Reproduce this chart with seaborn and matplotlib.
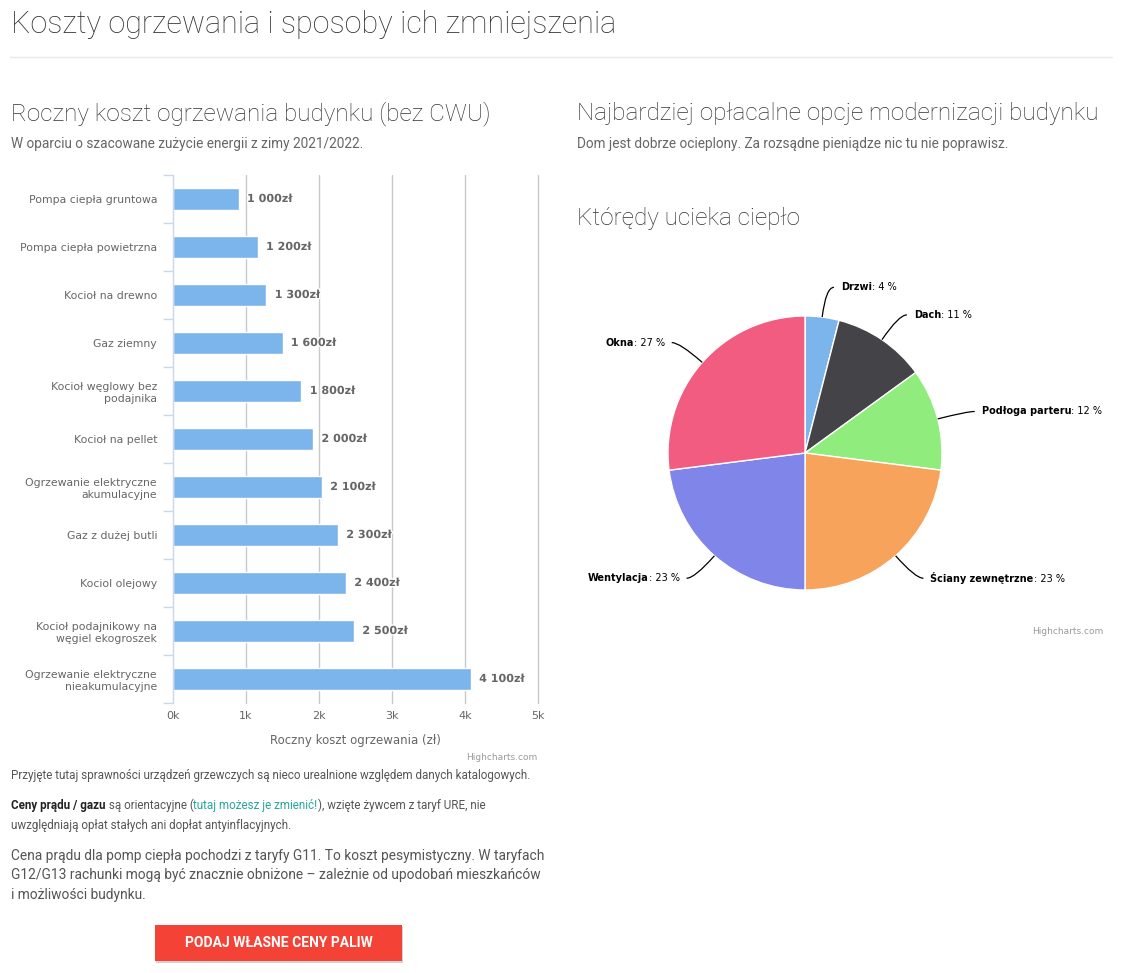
import textwrap
import numpy as np
import pandas as pd
import matplotlib
matplotlib.use('Agg')
import matplotlib.pyplot as plt
import matplotlib.patheffects as pe
from matplotlib.patches import Rectangle, PathPatch
from matplotlib.path import Path
import seaborn as sns

# dane wykresu slupkowego
kategorie = ['Pompa ciepła gruntowa', 'Pompa ciepła powietrzna', 'Kocioł na drewno', 'Gaz ziemny',
             'Kocioł węglowy bez podajnika', 'Kocioł na pellet', 'Ogrzewanie elektryczne akumulacyjne',
             'Gaz z dużej butli', 'Kociol olejowy', 'Kocioł podajnikowy na węgiel ekogroszek',
             'Ogrzewanie elektryczne nieakumulacyjne']
koszt = [900, 1160, 1280, 1500, 1760, 1920, 2040, 2260, 2370, 2480, 4080]
etykiety = ['1 000zł', '1 200zł', '1 300zł', '1 600zł', '1 800zł', '2 000zł', '2 100zł',
            '2 300zł', '2 400zł', '2 500zł', '4 100zł']
os_x = [0, 1000, 2000, 3000, 4000, 5000]
os_x_etykiety = ['0k', '1k', '2k', '3k', '4k', '5k']

# dane wykresu kolowego
pie_nazwy = ['Drzwi', 'Dach', 'Podłoga parteru', 'Ściany zewnętrzne', 'Wentylacja', 'Okna']
pie_proc = [4, 11, 12, 23, 23, 27]
pie_kolory = ['#7cb5ec', '#434348', '#90ed7d', '#f7a35c', '#8085e9', '#f15c80']

W, H = 1125, 973
sns.set_style('white')
plt.rcParams['font.family'] = ['DejaVu Sans']

fig = plt.figure(figsize=(W / 100, H / 100), dpi=100)


def box(x0, y0, x1, y1):
    return [x0 / W, 1 - y1 / H, (x1 - x0) / W, (y1 - y0) / H]


# tlo strony w pikselach (y w dol)
strona = fig.add_axes([0, 0, 1, 1])
strona.set_xlim(0, W)
strona.set_ylim(H, 0)
strona.axis('off')


def page_text(x, y, s, size, color='#333333', weight='normal', **kw):
    return strona.text(x, y, s, fontsize=size, color=color, family='Roboto',
                       fontweight=weight, va='baseline', **kw)


def dalej(prev, s, size, color, weight='normal', family='Roboto'):
    # dokleja tekst za poprzednim kawalkiem w tej samej linii
    return strona.annotate(s, xy=(1, 0), xycoords=prev, fontsize=size, color=color,
                           family=family, fontweight=weight, ha='left', va='bottom')


# naglowki strony
page_text(11, 33, 'Koszty ogrzewania i sposoby ich zmniejszenia', 22, weight='light')
strona.plot([10, 1112], [57, 57], color='#e8e8e8', lw=1)
page_text(11, 120, 'Roczny koszt ogrzewania budynku (bez CWU)', 17.5, weight='light')
page_text(11, 148, 'W oparciu o szacowane zużycie energii z zimy 2021/2022.', 9.85, color='#666666')
page_text(577, 120, 'Najbardziej opłacalne opcje modernizacji budynku', 17.5, weight='light')
page_text(577, 148, 'Dom jest dobrze ocieplony. Za rozsądne pieniądze nic tu nie poprawisz.', 9.85,
          color='#666666')
page_text(577, 225, 'Którędy ucieka ciepło', 17.5, weight='light')

# wykres slupkowy
ax = fig.add_axes(box(173, 175, 538, 703))
ax.patch.set_alpha(0)
df = pd.DataFrame({'kategoria': [textwrap.fill(k, 23) for k in kategorie], 'koszt': koszt})
sns.barplot(data=df, y='kategoria', x='koszt', color='#7cb5ec', saturation=1, width=0.46, ax=ax)
ax.set_xlim(os_x[0], os_x[-1])
ax.set_ylim(len(kategorie) - 0.5, -0.5)
ax.set_xticks(os_x)
ax.set_xticklabels(os_x_etykiety)
ax.set_axisbelow(True)
ax.grid(axis='x', color='#c8c8c8', lw=1)
for g in ax.xaxis.get_gridlines():
    g.set_clip_on(False)
ax.xaxis.get_gridlines()[0].set_visible(False)
for s in ['top', 'right', 'bottom']:
    ax.spines[s].set_visible(False)
ax.spines['left'].set_color('#ccd6eb')
ax.spines['left'].set_linewidth(1)
ax.set_yticks(np.arange(-0.5, len(kategorie)), minor=True)
ax.tick_params(axis='y', which='minor', left=True, length=7.2, color='#ccd6eb', width=1)
ax.tick_params(axis='y', which='major', left=False, length=0, pad=11.5, labelsize=7.8,
               labelcolor='#666666')
ax.tick_params(axis='x', length=0, pad=6, labelsize=8, labelcolor='#666666')
for t in ax.get_yticklabels():
    t.set_linespacing(1.3)
ax.set_ylabel('')
ax.set_xlabel('Roczny koszt ogrzewania (zł)', fontsize=8.5, color='#666666', labelpad=9)
ax.bar_label(ax.containers[0], labels=etykiety, padding=6, fontsize=8, fontweight='bold',
             color='#666666', path_effects=[pe.withStroke(linewidth=2, foreground='white')])
strona.text(537, 757, 'Highcharts.com', fontsize=6.5, color='#999999', ha='right', va='center')

# wykres kolowy
cx, cy, R = 805, 453, 137
axp = fig.add_axes(box(cx - 300, cy - 300, cx + 300, cy + 300))
axp.pie(pie_proc, colors=pie_kolory, startangle=90, counterclock=False, radius=R,
        wedgeprops=dict(edgecolor='white', linewidth=1))
axp.set_xlim(-300, 300)
axp.set_ylim(-300, 300)
axp.axis('off')

suma = np.cumsum([0] + pie_proc)
for i, nazwa in enumerate(pie_nazwy):
    th = np.deg2rad((suma[i] + pie_proc[i] / 2) / suma[-1] * 360)
    sx, cs = np.sin(th), np.cos(th)
    bok = 1 if sx > 0 else -1
    p0 = (R * sx, R * cs)
    p1 = ((R + 30) * sx, (R + 30) * cs)
    p2 = (p1[0] + 8 * bok, p1[1])
    axp.add_patch(PathPatch(Path([p0, p1, p2], [Path.MOVETO, Path.CURVE3, Path.CURVE3]),
                            fc='none', ec='#000000', lw=0.9, clip_on=False))
    lx = p1[0] + 15 * bok
    wart = f': {pie_proc[i]} %'
    if bok > 0:
        t1 = axp.text(lx, p1[1], nazwa, fontsize=7, fontweight='bold', color='#000000',
                      ha='left', va='center')
        axp.annotate(wart, xy=(1, 0), xycoords=t1, fontsize=7, color='#000000',
                     ha='left', va='bottom')
    else:
        t1 = axp.text(lx, p1[1], wart, fontsize=7, color='#000000', ha='right', va='center')
        axp.annotate(nazwa, xy=(0, 0), xycoords=t1, fontsize=7, fontweight='bold',
                     color='#000000', ha='right', va='bottom')
strona.text(1103, 632, 'Highcharts.com', fontsize=6.5, color='#999999', ha='right', va='center')

# teksty pod wykresem
page_text(11, 779, 'Przyjęte tutaj sprawności urządzeń grzewczych są nieco urealnione względem danych katalogowych.',
          8.4, color='#555555')
t = page_text(11, 809, 'Ceny prądu / gazu', 8.4, color='#222222', weight='bold')
t = dalej(t, ' są orientacyjne (', 8.4, '#555555')
t = dalej(t, 'tutaj możesz je zmienić!', 8.4, '#26a69a')
t = dalej(t, '), wzięte żywcem z taryf URE, nie', 8.4, '#555555')
page_text(11, 829, 'uwzględniają opłat stałych ani dopłat antyinflacyjnych.', 8.4, color='#555555')
page_text(11, 860, 'Cena prądu dla pomp ciepła pochodzi z taryfy G11. To koszt pesymistyczny. W taryfach',
          9.9, color='#555555')
page_text(11, 879, 'G12/G13 rachunki mogą być znacznie obniżone – zależnie od upodobań mieszkańców',
          9.9, color='#555555')
page_text(11, 899, 'i możliwości budynku.', 9.9, color='#555555')

# przycisk
strona.add_patch(Rectangle((156, 927), 247, 36, color='#000000', alpha=0.18, lw=0))
strona.add_patch(Rectangle((155, 925), 247, 36, color='#f44336', lw=0))
strona.text(278.5, 943, 'PODAJ WŁASNE CENY PALIW', fontsize=10, color='white', family='Roboto',
            fontweight='bold', ha='center', va='center')

fig.savefig('out.png', dpi=100)
